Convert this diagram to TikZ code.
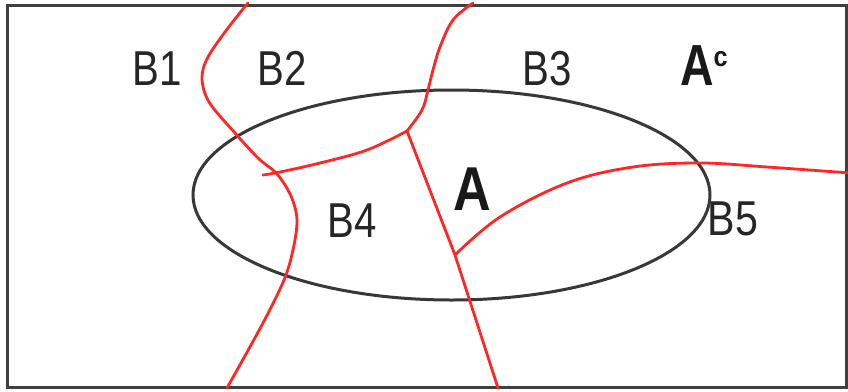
\documentclass[tikz,border=0pt]{standalone}
\usepackage{fontspec}
\usepackage{graphicx}
\setmainfont{Liberation Sans}
\tikzset{
  frame/.style={draw=black!75, line width=3pt},
  setA/.style={draw=black!78, line width=3pt},
  part/.style={draw=red!85!white, line width=2.8pt, line cap=round, line join=round},
  blabel/.style={inner sep=0pt, anchor=base, text=black!85,
    font=\fontsize{49}{50}\selectfont},
  alabel/.style={inner sep=0pt, anchor=base, text=black!90,
    font=\fontsize{62}{64}\selectfont\bfseries},
}
\newcommand{\narrow}[2]{\scalebox{#1}[1]{#2}}
\begin{document}
\begin{tikzpicture}[x=1pt,y=-1pt]
\useasboundingbox (0,0) rectangle (848,391);
\fill[white] (0,0) rectangle (848,391);
% sample space
\draw[frame] (7,5) rectangle (846,387);
% event A
\draw[setA] (451.5,195) ellipse [x radius=258.5, y radius=105];
% partition curves
\coordinate (j1) at (407,131);
\coordinate (j2) at (455,255);
\draw[part] plot[smooth, tension=0.55] coordinates {(248,3) (228,28) (208,57) (202,78) (209,102) (235,133) (258,158) (277,174) (291,196) (297,220) (293,250) (284,280) (263,323) (227,388)};
\draw[part] plot[smooth, tension=0.6] coordinates {(473,3) (453,20) (440,47) (433,70) (428,90) (422,110) (407,131)};
\draw[part] plot[smooth, tension=0.6] coordinates {(407,131) (367,150) (320,163) (280,172) (263,175)};
\draw[part] (j1) -- (j2) -- (498,388);
\draw[part] plot[smooth, tension=0.6] coordinates {(455,255) (500,217) (567,183) (633,167) (700,163) (767,167) (850,173)};
% labels
\node[blabel] (b1) at (157,85) {\narrow{0.82}{B1}};
\node[blabel] (b2) at (282,85) {\narrow{0.82}{B2}};
\node[blabel] (b3) at (547,85) {\narrow{0.82}{B3}};
\node[blabel] (b4) at (352,237) {\narrow{0.82}{B4}};
\node[blabel] (b5) at (733,235) {\narrow{0.84}{B5}};
\node[alabel] (a) at (472,210) {\narrow{0.84}{A}};
\node[alabel, anchor=base west, font=\fontsize{58}{60}\selectfont\bfseries] (ac) at (680,85)
  {\narrow{0.8}{A}\raisebox{19pt}{\fontsize{28}{28}\selectfont\bfseries\narrow{0.9}{c}}};
\end{tikzpicture}
\end{document}
